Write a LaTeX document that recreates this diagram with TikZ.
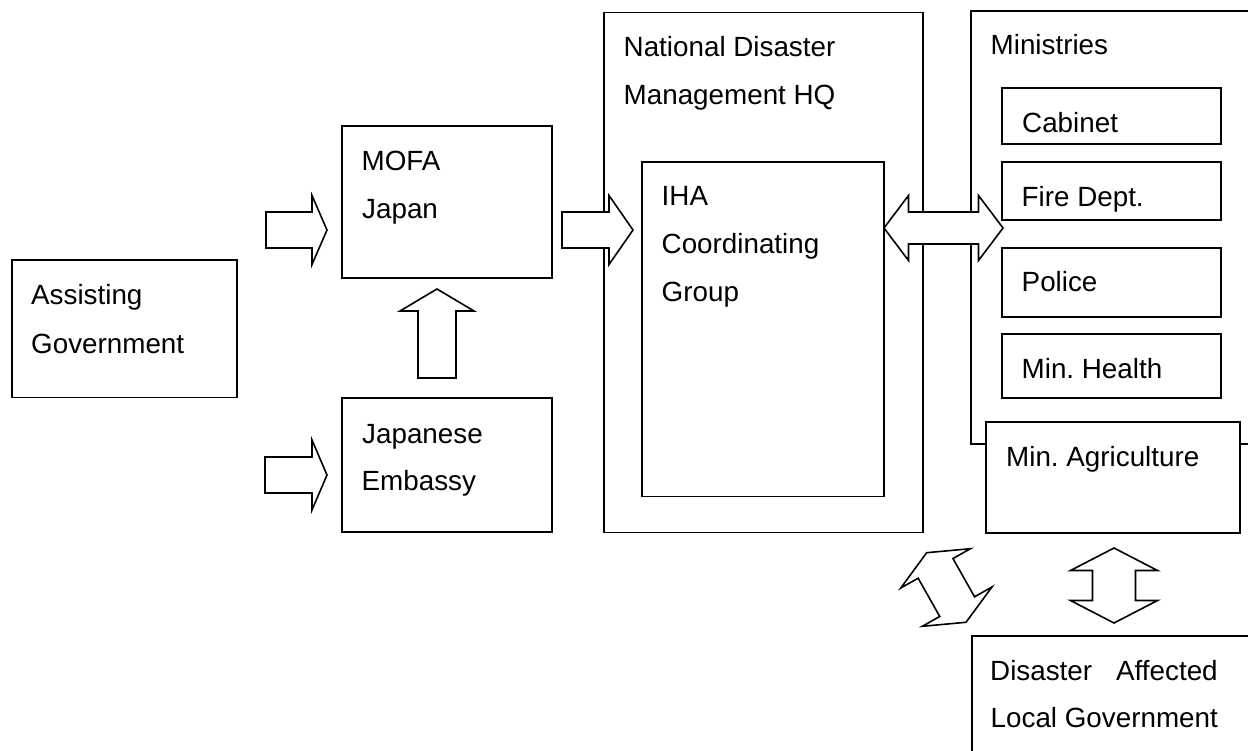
\documentclass[tikz,border=0pt]{standalone}
\usepackage{fontspec}
\setmainfont{Liberation Sans}
\frenchspacing
\usetikzlibrary{calc,fit}
\tikzset{
  box/.style={draw, line width=1.6pt, inner sep=0pt, fill=white},
  lbl/.style={anchor=base west, inner sep=0pt, font=\fontsize{27.8}{48}\selectfont},
  blk/.style={draw, line width=1.6pt, fill=white, line join=miter}
}
\newcommand\fatarrow[5]{%
  \path ($(#2)!#5!(#1)$) coordinate (fah);
  \draw[blk] ($(#1)!#3!90:(#2)$) -- ($(fah)!#3!-90:(#1)$) -- ($(fah)!#4!-90:(#1)$) -- (#2)
    -- ($(fah)!#4!90:(#1)$) -- ($(fah)!#3!90:(#1)$) -- ($(#1)!#3!-90:(#2)$) -- cycle;}
\newcommand\fatdarrow[5]{%
  \path ($(#1)!#5!(#2)$) coordinate (fa1) ($(#2)!#5!(#1)$) coordinate (fa2);
  \draw[blk] (#1) -- ($(fa1)!#4!90:(#2)$) -- ($(fa1)!#3!90:(#2)$) -- ($(fa2)!#3!-90:(#1)$)
    -- ($(fa2)!#4!-90:(#1)$) -- (#2) -- ($(fa2)!#4!90:(#1)$) -- ($(fa2)!#3!90:(#1)$)
    -- ($(fa1)!#3!-90:(#2)$) -- ($(fa1)!#4!-90:(#2)$) -- cycle;}
\begin{document}
\begin{tikzpicture}[x=1pt,y=-1pt]
\useasboundingbox (0,0) rectangle (1248,751);
\fill[white] (0,0) rectangle (1248,751);
\clip (0,0) rectangle (1248,751);

% box corners
\coordinate (ag-a) at (12,260);   \coordinate (ag-b) at (237,397.5);
\coordinate (mo-a) at (342,126);  \coordinate (mo-b) at (552,278);
\coordinate (em-a) at (342,398);  \coordinate (em-b) at (552,532);
\coordinate (nd-a) at (604,12.5); \coordinate (nd-b) at (923,532.5);
\coordinate (ih-a) at (642,162);  \coordinate (ih-b) at (884,496.5);
\coordinate (mi-a) at (971,11);   \coordinate (mi-b) at (1275,444);
\coordinate (ca-a) at (1002,88);  \coordinate (ca-b) at (1221,144);
\coordinate (fi-a) at (1002,162); \coordinate (fi-b) at (1221,220);
\coordinate (po-a) at (1002,248); \coordinate (po-b) at (1221,317);
\coordinate (mh-a) at (1002,334); \coordinate (mh-b) at (1221,398);
\coordinate (ma-a) at (986,422);  \coordinate (ma-b) at (1240,533);
\coordinate (dl-a) at (972,636);  \coordinate (dl-b) at (1275,780);

\node[box, fit=(ag-a)(ag-b)] (ag) {};
\node[box, fit=(mo-a)(mo-b)] (mofa) {};
\node[box, fit=(em-a)(em-b)] (emb) {};
\node[box, fit=(nd-a)(nd-b)] (ndm) {};
\node[box, fit=(ih-a)(ih-b)] (iha) {};
\node[box, fit=(mi-a)(mi-b)] (min) {};
\node[box, fit=(ca-a)(ca-b)] (cab) {};
\node[box, fit=(fi-a)(fi-b)] (fire) {};
\node[box, fit=(po-a)(po-b)] (pol) {};
\node[box, fit=(mh-a)(mh-b)] (mhe) {};
\node[box, fit=(ma-a)(ma-b)] (mag) {};
\node[box, fit=(dl-a)(dl-b)] (dlg) {};

% texts
\node[lbl] (t-ag1) at (31,305) {Assisting};
\node[lbl] (t-ag2) at (31,353) {Government};
\node[lbl] (t-mo1) at (361.5,171) {MOFA};
\node[lbl] (t-mo2) at (362,219) {Japan};
\node[lbl] (t-em1) at (362,443) {Japanese};
\node[lbl] (t-em2) at (361.5,490) {Embassy};
\node[lbl] (t-nd1) at (623.5,56.5) {National Disaster};
\node[lbl] (t-nd2) at (623.5,105) {Management HQ};
\node[lbl] (t-ih1) at (661.5,205.5) {IHA};
\node[lbl] (t-ih2) at (661.5,253.5) {Coordinating};
\node[lbl] (t-ih3) at (661.5,301.5) {Group};
\node[lbl] (t-mi) at (990.5,55) {Ministries};
\node[lbl] (t-ca) at (1022,132.3) {Cabinet};
\node[lbl] (t-fi) at (1021.5,206.7) {Fire Dept.};
\node[lbl] (t-po) at (1021.5,291.7) {Police};
\node[lbl] (t-mh) at (1021.5,378.5) {Min. Health};
\node[lbl] (t-ma) at (1006,466.7) {Min. Agriculture};
\node[lbl] (t-dl1) at (990,680) {Disaster\hspace{24pt}Affected};
\node[lbl] (t-dl2) at (990.5,727.7) {Local Government};

% block arrows
\coordinate (a1s) at (266,230);   \coordinate (a1e) at (327,230);
\coordinate (a2s) at (265,475);   \coordinate (a2e) at (327,475);
\coordinate (a3s) at (562,230);   \coordinate (a3e) at (633,230);
\coordinate (a4s) at (437,378);   \coordinate (a4e) at (437,289);
\coordinate (d1s) at (884,228);   \coordinate (d1e) at (1003,228);
\coordinate (d2s) at (1114,548);  \coordinate (d2e) at (1114,623);
\coordinate (d3s) at (926.7,552.7); \coordinate (d3e) at (966,622.3);

\fatarrow{a1s}{a1e}{18pt}{34.5pt}{15pt}
\fatarrow{a2s}{a2e}{18pt}{35pt}{15pt}
\fatarrow{a3s}{a3e}{18pt}{34.5pt}{24pt}
\fatarrow{a4s}{a4e}{19pt}{37pt}{22pt}
\fatdarrow{d1s}{d1e}{16pt}{32.5pt}{24.5pt}
\fatdarrow{d2s}{d2e}{21.5pt}{43.5pt}{22.5pt}
\fatdarrow{d3s}{d3e}{20pt}{40pt}{18pt}
\end{tikzpicture}
\end{document}
